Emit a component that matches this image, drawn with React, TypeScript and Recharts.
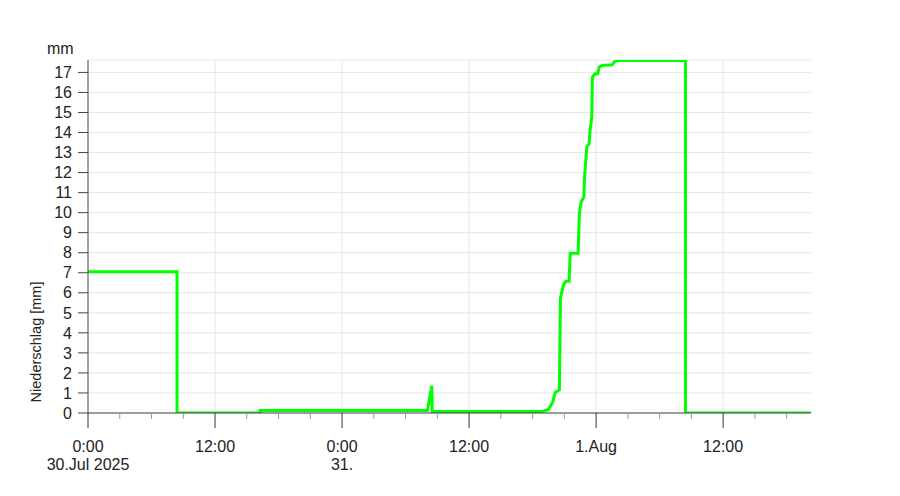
import { CartesianGrid, Line, LineChart, ReferenceLine, XAxis, YAxis } from "recharts";

// hours since 30.Jul 2025 0:00
const hours = [
    0, 8.41, 8.41, 16.25, 16.25, 32.06, 32.48, 32.52, 42.87, 43.5, 43.91, 44.13, 44.53,
    44.63, 44.91, 45.14, 45.45, 45.55, 46.3, 46.42, 46.58, 46.84, 46.93, 47.12, 47.34,
    47.43, 47.59, 47.65, 47.88, 48.16, 48.28, 48.57, 49.51, 49.7, 49.98, 56.44, 56.44, 68.3,
];
// Niederschlag [mm]
const rain = [
    7.05, 7.05, 0, 0, 0.12, 0.12, 1.36, 0.07, 0.07, 0.18, 0.56, 1.03, 1.15,
    5.73, 6.38, 6.58, 6.58, 7.98, 7.98, 9.95, 10.53, 10.78, 11.95, 13.28, 13.44,
    14.1, 14.77, 16.77, 16.93, 16.93, 17.26, 17.35, 17.38, 17.51, 17.6, 17.6, 0, 0,
];

const xTicks = [0, 3, 6, 9, 12, 15, 18, 21, 24, 27, 30, 33, 36, 39, 42, 45, 48, 51, 54, 57, 60, 63, 66];
const majorTicks = [0, 12, 24, 36, 48, 60];
const majorLabels: Record<number, string[]> = {
    0: ["0:00", "30.Jul 2025"],
    12: ["12:00"],
    24: ["0:00", "31."],
    36: ["12:00"],
    48: ["1.Aug"],
    60: ["12:00"],
};
const yTicks = [0, 1, 2, 3, 4, 5, 6, 7, 8, 9, 10, 11, 12, 13, 14, 15, 16, 17];

const data = hours.map((h, i) => ({ h, v: rain[i] }));

const FONT = "'Liberation Sans', Arial, Helvetica, sans-serif";

function XTick(props: any) {
    const { x, y, payload } = props;
    const major = majorTicks.includes(payload.value);
    const lines = majorLabels[payload.value] || [];
    return (
        <g>
            <line
                x1={x}
                x2={x}
                y1={y}
                y2={y + (major ? 15 : 6)}
                stroke={major ? "#333" : "#999"}
                strokeWidth={1}
            />
            {lines.map((t, i) => (
                <text
                    key={i}
                    x={x}
                    y={y + 39 + i * 18}
                    textAnchor="middle"
                    fontSize={16}
                    fontFamily={FONT}
                    fill="#222"
                >
                    {t}
                </text>
            ))}
        </g>
    );
}

export default function App() {
    return (
        <div style={{ position: "absolute", left: 0, top: 0, width: 900, height: 496, background: "#fff" }}>
            <LineChart
                width={900}
                height={496}
                data={data}
                margin={{ top: 60, right: 89, left: 8, bottom: 23 }}
            >
                <CartesianGrid vertical={false} stroke="#e6e6e6" />
                {majorTicks.slice(1).map((t) => (
                    <ReferenceLine key={t} x={t} stroke="#e6e6e6" />
                ))}
                <XAxis
                    dataKey="h"
                    type="number"
                    domain={[0, 68.3]}
                    ticks={xTicks}
                    interval={0}
                    allowDataOverflow
                    height={60}
                    tickLine={false}
                    tickSize={0}
                    tickMargin={0}
                    axisLine={{ stroke: "#444" }}
                    tick={(p: any) => <XTick {...p} />}
                />
                <YAxis
                    type="number"
                    domain={[0, 17.62]}
                    ticks={yTicks}
                    interval={0}
                    allowDataOverflow
                    width={80}
                    tickSize={10}
                    tickMargin={6}
                    axisLine={{ stroke: "#444" }}
                    tickLine={{ stroke: "#444" }}
                    tick={{ fill: "#222", fontSize: 16, fontFamily: FONT }}
                />
                <Line
                    type="linear"
                    dataKey="v"
                    stroke="#00ff00"
                    strokeWidth={3}
                    dot={false}
                    activeDot={false}
                    isAnimationActive={false}
                />
            </LineChart>
            <div
                style={{
                    position: "absolute",
                    left: 47,
                    top: 40,
                    fontSize: 16,
                    fontFamily: FONT,
                    color: "#222",
                }}
            >
                mm
            </div>
            <div
                style={{
                    position: "absolute",
                    left: 36,
                    top: 342,
                    transform: "translate(-50%, -50%) rotate(-90deg)",
                    whiteSpace: "nowrap",
                    fontSize: 14.5,
                    fontFamily: FONT,
                    color: "#222",
                }}
            >
                Niederschlag [mm]
            </div>
        </div>
    );
}
